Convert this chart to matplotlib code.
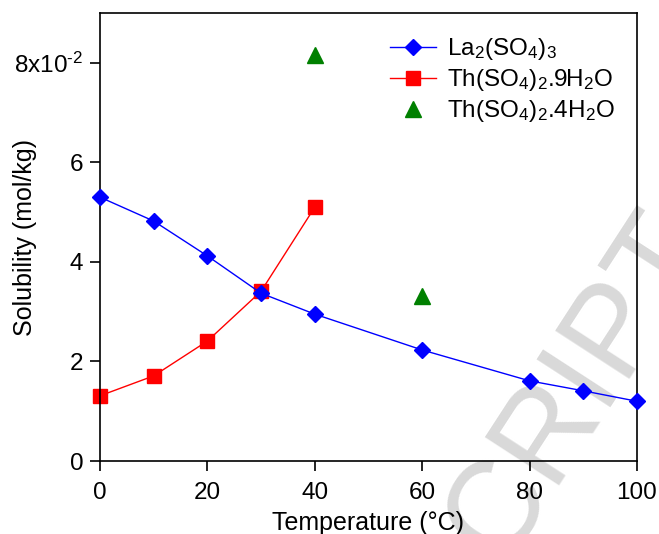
import matplotlib.pyplot as plt
from matplotlib.ticker import FixedLocator, FixedFormatter

plt.rcParams['font.family'] = ['Liberation Sans', 'DejaVu Sans']
plt.rcParams['mathtext.fontset'] = 'custom'
plt.rcParams['mathtext.rm'] = 'Liberation Sans'
plt.rcParams['mathtext.it'] = 'Liberation Sans:italic'
plt.rcParams['mathtext.bf'] = 'Liberation Sans:bold'

# Data (solubility in units of 10^-2 mol/kg)
temp_la = [0, 10, 20, 30, 40, 60, 80, 90, 100]
sol_la = [5.30, 4.82, 4.12, 3.37, 2.95, 2.23, 1.61, 1.41, 1.20]

temp_th9 = [0, 10, 20, 30, 40]
sol_th9 = [1.31, 1.71, 2.41, 3.41, 5.10]

temp_th4 = [40, 60]
sol_th4 = [8.15, 3.31]

y_ticks = [0, 2, 4, 6, 8]
y_labels = ["0", "2", "4", "6", r"8x10$^{\mathregular{\text{-2}}}$"]

fig = plt.figure(figsize=(6.59, 5.34), dpi=100)
ax = fig.add_axes([100 / 659, 1 - 461 / 534, 537 / 659, 448 / 534])
ax.patch.set_alpha(0)

# watermark remnant
fig.text(0.878, 0.275, "CRIPT", fontsize=92, color="#d9d9d9", rotation=57,
         ha="center", va="center", zorder=-5)

ax.plot(temp_la, sol_la, color="blue", marker="D", markersize=8.5, linewidth=1,
        label=r"La$_\mathregular{2}$(SO$_\mathregular{4}$)$_\mathregular{3}$", clip_on=False, zorder=3)
ax.plot(temp_th9, sol_th9, color="red", marker="s", markersize=9.5, linewidth=1,
        label=r"Th(SO$_\mathregular{4}$)$_\mathregular{2}$.9H$_\mathregular{2}$O", clip_on=False, zorder=2)
ax.plot(temp_th4, sol_th4, color="green", marker="^", linestyle="none", markersize=11,
        label=r"Th(SO$_\mathregular{4}$)$_\mathregular{2}$.4H$_\mathregular{2}$O", clip_on=False, zorder=2)

ax.set_xlim(0, 100)
ax.set_ylim(0, 9)
ax.set_xticks([0, 20, 40, 60, 80, 100])
ax.yaxis.set_major_locator(FixedLocator(y_ticks))
ax.yaxis.set_major_formatter(FixedFormatter(y_labels))
ax.tick_params(direction="out", length=7, width=1.2, labelsize=17.5,
               top=False, right=False)
ax.tick_params(axis="x", pad=8)
ax.tick_params(axis="y", pad=5)
for s in ax.spines.values():
    s.set_linewidth(1.2)

ax.set_xlabel("Temperature (°C)", fontsize=18, labelpad=5)
ax.set_ylabel("Solubility (mol/kg)", fontsize=18)
ax.yaxis.set_label_coords(-0.118, 0.5)

ax.legend(loc="upper left", frameon=False, fontsize=17.5, handlelength=1.9,
          handletextpad=0.45, labelspacing=0.2, borderpad=0, borderaxespad=0,
          bbox_to_anchor=(0.54, 0.948))

fig.savefig("out.png", dpi=100)
